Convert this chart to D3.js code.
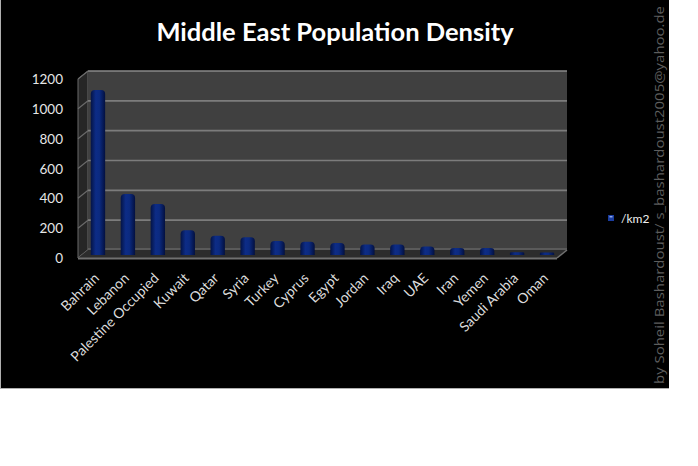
<!DOCTYPE html>
<html><head><meta charset="utf-8">
<script src="https://cdn.jsdelivr.net/npm/d3@7/dist/d3.min.js"></script>
<style>html,body{margin:0;padding:0;background:#fff;}svg{display:block;}</style>
</head><body>
<svg id="chart" width="698" height="466"></svg>
<script>
const categories = ["Bahrain","Lebanon","Palestine Occupied","Kuwait","Qatar","Syria","Turkey","Cyprus","Egypt","Jordan","Iraq","UAE","Iran","Yemen","Saudi Arabia","Oman"];
const densityValues = [1100, 402, 335, 160, 123, 113, 87, 82, 73, 63, 63, 50, 40, 40, 12, 10];
const yTicks = [0, 200, 400, 600, 800, 1000, 1200];
const seriesName = "/km2";
const titleText = "Middle East Population Density";
const creditText = "by Soheil Bashardoust/ s_bashardoust2005@yahoo.de";

const svg = d3.select("#chart");
const FONT = "Lato, 'Open Sans', sans-serif";

// Background
svg.append("rect").attr("x",1).attr("y",0).attr("width",668).attr("height",388).attr("fill","#000");
svg.append("line").attr("x1",1).attr("x2",669).attr("y1",388.5).attr("y2",388.5).attr("stroke","#b0b0b0").attr("stroke-width",1);
svg.append("line").attr("x1",0.5).attr("x2",0.5).attr("y1",0).attr("y2",389).attr("stroke","#b0b0b0").attr("stroke-width",1);

const wallX0 = 88, wallX1 = 567, wallTop = 71, wallBottom = 250;
const dx = -10, dy = 8;   // depth offset (back -> front)

const x = d3.scaleBand().domain(categories).range([wallX0, wallX1]).paddingInner(0.52).paddingOuter(0.26);
const yBack = d3.scaleLinear().domain([0, 1200]).range([wallBottom, wallTop]);
const yMid = d3.scaleLinear().domain([0, 1200]).range([wallBottom + dy/2, wallTop + dy/2]);
const yFront = d3.scaleLinear().domain([0, 1200]).range([wallBottom + dy, wallTop + dy]);

const defs = svg.append("defs");
const grad = defs.append("linearGradient").attr("id","barGrad").attr("x1","0").attr("x2","1").attr("y1","0").attr("y2","0");
grad.append("stop").attr("offset","0%").attr("stop-color","#041446");
grad.append("stop").attr("offset","35%").attr("stop-color","#0d2c86");
grad.append("stop").attr("offset","60%").attr("stop-color","#0b2a80");
grad.append("stop").attr("offset","100%").attr("stop-color","#031040");

// side wall (left)
svg.append("path")
  .attr("d", `M${wallX0},${yBack(1200)} L${wallX0+dx},${yBack(1200)+dy} L${wallX0+dx},${yBack(0)+dy} L${wallX0},${yBack(0)} Z`)
  .attr("fill","#262626").attr("stroke","#6a6a6a").attr("stroke-width",1);
// back wall
svg.append("rect").attr("x",wallX0).attr("y",yBack(1200)).attr("width",wallX1-wallX0).attr("height",yBack(0)-yBack(1200))
  .attr("fill","#404040");
// grid lines
yTicks.forEach(v => {
  svg.append("line").attr("x1",wallX0).attr("x2",wallX1).attr("y1",yBack(v)).attr("y2",yBack(v))
    .attr("stroke", v===1200 ? "#8a8a8a" : "#7c7c7c").attr("stroke-width",1.6);
  svg.append("line").attr("x1",wallX0).attr("x2",wallX0+dx).attr("y1",yBack(v)).attr("y2",yBack(v)+dy)
    .attr("stroke","#6a6a6a").attr("stroke-width",1.2);
});
// floor
svg.append("path")
  .attr("d", `M${wallX0},${yBack(0)} L${wallX1},${yBack(0)} L${wallX1+dx},${yBack(0)+dy} L${wallX0+dx},${yBack(0)+dy} Z`)
  .attr("fill","#2c2c2c");
svg.append("line").attr("x1",wallX0+dx).attr("x2",wallX1+dx).attr("y1",yBack(0)+dy+0.5).attr("y2",yBack(0)+dy+0.5)
  .attr("stroke","#707070").attr("stroke-width",2);
svg.append("line").attr("x1",wallX1).attr("x2",wallX1+dx).attr("y1",yBack(0)).attr("y2",yBack(0)+dy)
  .attr("stroke","#707070").attr("stroke-width",1.5);
svg.append("line").attr("x1",wallX0).attr("x2",wallX1).attr("y1",yBack(0)-1).attr("y2",yBack(0)-1)
  .attr("stroke","#5a5a5a").attr("stroke-width",2);

// bars
const bw = x.bandwidth();
const bars = svg.append("g");
categories.forEach((c, i) => {
  const v = densityValues[i];
  const bx = x(c) + dx/2;
  const top = yMid(v), bot = yMid(0) + 1;
  const r = Math.min(4, (bot - top)/2);
  bars.append("path")
    .attr("d", `M${bx},${bot} L${bx},${top+r} Q${bx},${top} ${bx+r},${top} L${bx+bw-r},${top} Q${bx+bw},${top} ${bx+bw},${top+r} L${bx+bw},${bot} Z`)
    .attr("fill","url(#barGrad)");
});

// y axis labels
svg.append("g").selectAll("text").data(yTicks).join("text")
  .attr("x", 63).attr("y", d => yFront(d) + 5)
  .attr("text-anchor","end").attr("fill","#e6e6e6")
  .attr("font-family",FONT).attr("font-size",13.5).text(d => d);

// x labels
svg.append("g").selectAll("text").data(categories).join("text")
  .attr("text-anchor","end").attr("fill","#dcdcdc")
  .attr("font-family",FONT).attr("font-size",14)
  .attr("transform", d => `translate(${x(d) + bw/2 + dx/2 + 2},${279}) rotate(-45)`)
  .text(d => d);

// title
svg.append("text").attr("x",335).attr("y",41).attr("text-anchor","middle")
  .attr("fill","#fff").attr("font-family",FONT).attr("font-weight","bold").attr("font-size",25.5)
  .text(titleText);

// legend
const lg = svg.append("g");
lg.append("rect").attr("x",608).attr("y",215).attr("width",6).attr("height",6).attr("fill","#1a3c9e");
lg.append("rect").attr("x",609.5).attr("y",216).attr("width",3).attr("height",1.5).attr("fill","#8fa6e8");
lg.append("text").attr("x",621).attr("y",222.5).attr("fill","#f0f0f0")
  .attr("font-family",FONT).attr("font-size",12).text(seriesName);

// vertical credit
svg.append("text").attr("transform","translate(664,195) rotate(-90)")
  .attr("text-anchor","middle").attr("fill","#5e5e5e")
  .attr("font-family","'Open Sans', sans-serif").attr("font-size",13.5)
  .attr("textLength",378).attr("lengthAdjust","spacingAndGlyphs")
  .text(creditText);
</script>
</body></html>
